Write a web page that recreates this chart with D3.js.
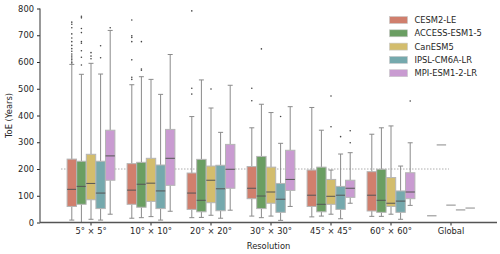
<!DOCTYPE html>
<html><head><meta charset="utf-8">
<script src="https://cdn.jsdelivr.net/npm/d3@7"></script>
<style>
body{margin:0;background:#fff;}
svg{display:block;font-family:"DejaVu Sans",sans-serif;}
</style></head>
<body><svg id="c" width="500" height="254"></svg>
<script>
const categories = ["5° × 5°","10° × 10°","20° × 20°","30° × 30°","45° × 45°","60° × 60°","Global"];
const models = ["CESM2-LE","ACCESS-ESM1-5","CanESM5","IPSL-CM6A-LR","MPI-ESM1-2-LR"];
const colors = ["#d07f6d","#6a9e62","#d3bd6d","#75a9ad","#c99bd1"];
const yTicks = [0,100,200,300,400,500,600,700,800];
const threshold = 200;

// box stats per category: [lower whisker, Q1, median, Q3, upper whisker]
const cesm2 = [[9,60,124,237,591],[16,68,121,220,515],[18,49,110,185,396],[24,89,128,209,354],[21,60,102,196,430],[23,43,102,190,330],[25,25,25,25,25]];
const access = [[0,68,135,229,554],[18,57,143,225,545],[19,40,83,236,533],[18,52,99,247,442],[24,40,68,207,345],[23,38,83,199,354],[290,290,290,290,290]];
const canesm = [[12,85,146,255,595],[22,79,147,240,535],[27,74,158,211,428],[24,72,114,207,411],[31,68,98,161,196],[31,60,72,168,361],[65,65,65,65,65]];
const ipsl = [[9,52,110,229,555],[9,52,118,215,479],[16,44,126,214,337],[8,38,87,146,296],[14,49,102,135,256],[12,38,80,118,211],[47,47,47,47,47]];
const mpi = [[31,158,249,345,718],[42,139,240,348,628],[46,128,199,292,513],[60,120,161,270,433],[72,94,128,158,261],[64,89,114,186,298],[54,54,54,54,54]];

// outliers per category
const cesm2Out = [[749,741,728,705,690,676,662,650,640,630,622,615,608,600,596],[757,698,692,676,608,543,535],[791,502,480],[502,455],[],[],[]];
const accessOut = [[771,765,725,710,676,670,642,618,589],[676,574,569],[],[649],[],[],[]];
const canesmOut = [[635,622,612],[],[499],[],[473,358],[],[]];
const ipslOut = [[661,616],[],[],[396],[321],[],[]];
const mpiOut = [[728],[],[],[],[343,298],[454],[]];

const stats = [cesm2, access, canesm, ipsl, mpi];
const outs = [cesm2Out, accessOut, canesmOut, ipslOut, mpiOut];

const svg = d3.select("#c");
const mLeft = 40, mRight = 497, mTop = 8.5, mBottom = 222.5;
const x = d3.scaleBand().domain(categories).range([61, 481]).padding(0);
const hue = d3.scaleBand().domain(models).range([-24, 24]).padding(0);
const y = d3.scaleLinear().domain([0, 800]).range([mBottom, mTop]);
const ink = "#262626";
const gray = "#8a8a8a";

// threshold line
svg.append("line")
  .attr("x1", x(categories[0])).attr("x2", x("Global") + x.bandwidth()/2 - 2)
  .attr("y1", y(threshold)).attr("y2", y(threshold))
  .attr("stroke", "#999").attr("stroke-width", 0.8).attr("stroke-dasharray", "1.5,1.5");

const bw = hue.bandwidth() * 0.98;
const capW = 5;
models.forEach((m, mi) => {
  const g = svg.append("g");
  categories.forEach((c, ci) => {
    const s = stats[mi][ci];
    const cx = x(c) + x.bandwidth()/2 + hue(m) + hue.bandwidth()/2;
    if (s[4] > s[0]) {
      g.append("line").attr("x1", cx).attr("x2", cx).attr("y1", y(s[3])).attr("y2", y(s[4]))
        .attr("stroke", gray).attr("stroke-width", 1);
      g.append("line").attr("x1", cx).attr("x2", cx).attr("y1", y(s[1])).attr("y2", y(s[0]))
        .attr("stroke", gray).attr("stroke-width", 1);
      g.append("line").attr("x1", cx - capW/2).attr("x2", cx + capW/2).attr("y1", y(s[4])).attr("y2", y(s[4]))
        .attr("stroke", gray).attr("stroke-width", 1);
      g.append("line").attr("x1", cx - capW/2).attr("x2", cx + capW/2).attr("y1", y(s[0])).attr("y2", y(s[0]))
        .attr("stroke", gray).attr("stroke-width", 1);
      g.append("rect").attr("x", cx - bw/2).attr("width", bw)
        .attr("y", y(s[3])).attr("height", y(s[1]) - y(s[3]))
        .attr("fill", colors[mi]).attr("stroke", "#b5b5b5").attr("stroke-width", 1);
      g.append("line").attr("x1", cx - bw/2).attr("x2", cx + bw/2).attr("y1", y(s[2])).attr("y2", y(s[2]))
        .attr("stroke", "#555").attr("stroke-width", 1);
    } else {
      g.append("line").attr("x1", cx - bw/2).attr("x2", cx + bw/2).attr("y1", y(s[2])).attr("y2", y(s[2]))
        .attr("stroke", gray).attr("stroke-width", 1);
    }
    outs[mi][ci].forEach(v => {
      g.append("circle").attr("cx", cx).attr("cy", y(v)).attr("r", 0.8).attr("fill", "#444");
    });
  });
});

// axes
const yAxis = d3.axisLeft(y).tickValues(yTicks).tickSize(3).tickPadding(3);
const gy = svg.append("g").attr("transform", `translate(${mLeft},0)`).call(yAxis);
gy.select(".domain").remove();
gy.selectAll(".tick line").attr("stroke", ink).attr("stroke-width", 1);
gy.selectAll("text").attr("font-size", 8.33).attr("fill", ink).attr("font-family", "DejaVu Sans");

const xAxis = d3.axisBottom(x).tickSize(3).tickPadding(3);
const gx = svg.append("g").attr("transform", `translate(0,${mBottom})`).call(xAxis);
gx.select(".domain").remove();
gx.selectAll(".tick line").attr("stroke", ink).attr("stroke-width", 1);
gx.selectAll("text").attr("font-size", 8.33).attr("fill", ink).attr("font-family", "DejaVu Sans");

svg.append("line").attr("x1", mLeft).attr("x2", mLeft).attr("y1", mTop).attr("y2", mBottom)
  .attr("stroke", "#444").attr("stroke-width", 1.1);
svg.append("line").attr("x1", mLeft).attr("x2", mRight).attr("y1", mBottom).attr("y2", mBottom)
  .attr("stroke", "#555").attr("stroke-width", 1.3);

svg.append("text").attr("x", (mLeft + mRight)/2).attr("y", 249).attr("text-anchor", "middle")
  .attr("font-size", 8.33).attr("fill", ink).text("Resolution");
svg.append("text").attr("transform", `translate(12,${(mTop+mBottom)/2}) rotate(-90)`)
  .attr("text-anchor", "middle").attr("font-size", 8.33).attr("fill", ink).text("ToE (Years)");

// legend
const lg = svg.append("g");
models.forEach((m, i) => {
  const yy = 20 + i * 13.3;
  lg.append("rect").attr("x", 389.5).attr("y", yy - 3.5).attr("width", 18).attr("height", 7)
    .attr("fill", colors[i]).attr("stroke", "#c8c8c8").attr("stroke-width", 0.6);
  lg.append("text").attr("x", 414.5).attr("y", yy + 3).attr("font-size", 8.33).attr("fill", ink).text(m);
});
</script></body></html>
